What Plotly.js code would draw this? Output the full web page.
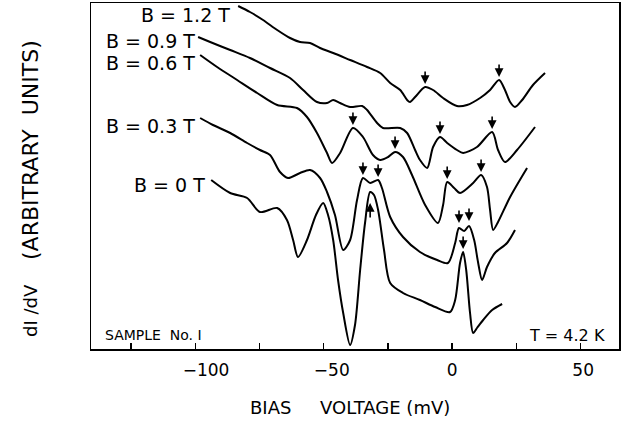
<!DOCTYPE html>
<html>
<head>
<meta charset="utf-8">
<script src="https://cdn.plot.ly/plotly-3.0.1.min.js"></script>
<style>html,body{margin:0;padding:0;background:#fff;}#chart{width:626px;height:425px;}</style>
</head>
<body>
<div id="chart"></div>
<script>
// Bias voltage (mV) and dI/dV (arbitrary units, curves offset vertically)
var V_12 = [-83.3,-78.7,-73.6,-68.1,-63.1,-59.2,-55.3,-51.4,-46.3,-39.7,-33.1,-28.0,-24.1,-20.2,-17.5,-16.4,-14.4,-10.5,-7.4,-3.5,1.9,5.8,10.9,14.8,18.3,20.6,22.6,24.5,27.3,31.5,36.2];
var G_12 = [34.3,33.7,32.9,31.9,31.1,30.7,30.6,30.1,29.6,28.9,28.2,27.6,26.6,25.9,24.9,24.7,25.2,26.2,25.9,25.1,24.3,24.4,25.1,25.9,26.9,25.9,24.7,24.2,24.9,26.4,27.6];

var V_09 = [-98.9,-94.2,-86.4,-78.7,-70.9,-63.1,-58.0,-52.6,-48.7,-46.3,-43.6,-39.7,-35.0,-33.1,-29.2,-26.9,-20.2,-17.5,-14.4,-12.5,-9.7,-7.4,-4.7,-1.9,1.9,4.3,9.7,15.6,17.9,20.6,25.3,32.3];
var G_09 = [31.2,30.7,29.9,29.1,28.1,27.1,25.9,24.7,24.6,24.9,24.6,24.2,24.3,23.9,22.6,22.1,22.1,21.6,19.9,18.9,18.1,20.2,21.2,20.6,19.9,19.6,20.2,21.7,19.9,18.7,19.9,22.2];

var V_06 = [-98.1,-91.5,-83.7,-75.9,-68.1,-60.4,-56.5,-52.6,-48.7,-46.7,-43.6,-38.6,-34.7,-30.8,-28.0,-24.9,-22.2,-19.1,-15.6,-10.5,-5.5,-3.5,-1.9,0.8,3.1,8.2,11.3,13.6,14.8,16.0,17.9,22.6,29.2];
var G_06 = [29.4,28.2,26.9,25.6,24.4,24.1,23.2,21.6,19.6,18.6,19.6,22.1,21.2,19.4,18.9,19.2,19.7,19.2,17.4,14.4,12.6,14.4,16.7,16.1,15.6,16.6,17.4,16.2,13.9,11.9,12.7,15.2,18.1];

var V_03 = [-98.1,-93.1,-86.4,-79.8,-74.8,-70.9,-67.0,-63.9,-59.2,-55.3,-51.4,-48.7,-45.6,-42.4,-39.7,-37.0,-34.7,-31.9,-28.8,-27.3,-24.1,-19.1,-12.5,-5.8,-1.6,1.2,2.7,4.7,6.6,8.6,10.1,11.7,13.6,16.7,21.4,24.5];
var G_03 = [23.1,22.4,21.6,20.6,19.9,19.4,17.7,17.1,17.6,17.9,17.1,15.7,13.4,9.9,10.9,14.9,17.1,16.6,16.9,16.1,13.2,11.2,9.7,8.9,8.6,10.6,12.1,11.8,12.3,10.9,8.7,6.9,8.2,9.6,10.6,11.9];

var V_00 = [-93.8,-86.4,-79.8,-74.8,-68.1,-64.3,-61.9,-60.0,-56.5,-53.0,-50.2,-48.3,-46.3,-44.4,-42.4,-39.7,-37.8,-35.8,-33.9,-31.9,-30.4,-28.8,-26.5,-24.1,-19.1,-12.5,-6.6,-0.8,1.2,3.1,4.3,5.5,7.0,8.2,9.7,12.1,15.6,19.5];
var G_00 = [16.9,15.6,15.1,13.7,14.1,12.9,10.9,9.2,10.9,13.4,14.6,13.4,10.9,6.9,3.6,0.4,2.4,7.9,12.6,15.7,15.4,13.9,9.9,6.6,5.6,4.9,4.2,3.7,4.9,8.6,9.7,7.9,3.6,1.6,2.1,2.9,3.9,4.5];

var curveLabels = ['B\u00a0=\u00a01.2\u00a0T','B\u00a0=\u00a00.9\u00a0T','B\u00a0=\u00a00.6\u00a0T','B\u00a0=\u00a00.3\u00a0T','B\u00a0=\u00a00\u00a0T'];
var labelV = [-85.7,-99.3,-99.3,-99.3,-95.4];
var labelG = [33.4,30.8,28.6,22.3,16.4];

// arrows marking peaks: voltage, level, direction (1 = down arrow above, -1 = up arrow below)
var arrowV = [-10.5,18.3,-4.7,15.6,-38.6,-22.2,-1.9,11.3,-34.7,-28.8,2.7,6.6,4.3,-31.9];
var arrowG = [26.2,26.9,21.2,21.7,22.1,19.7,16.7,17.4,17.1,16.9,12.3,12.5,9.7,14.6];
var arrowDir = [1,1,1,1,1,1,1,1,1,1,1,1,1,-1];

var tickVals = [-125,-100,-75,-50,-25,0,25,50];
var tickText = ['','\u00a0\u00a0\u00a0\u00a0\u2212100','','\u00a0\u00a0\u00a0\u221250','','0','','\u00a050'];

var FONT = 'DejaVu Sans, Arial, sans-serif';
var series = [[V_12,G_12],[V_09,G_09],[V_06,G_06],[V_03,G_03],[V_00,G_00]];
var data = series.map(function(s,i){
  return {x:s[0], y:s[1], type:'scatter', mode:'lines', name:curveLabels[i],
    line:{color:'#000', width:2, shape:'spline', smoothing:0.8}, hoverinfo:'skip'};
});

var ann = [];
curveLabels.forEach(function(t,i){
  ann.push({x:labelV[i], y:labelG[i], xref:'x', yref:'y', text:t, showarrow:false,
    xanchor:'right', yanchor:'middle', font:{family:FONT, size:19, color:'#000'}});
});
arrowV.forEach(function(v,i){
  var d = arrowDir[i];
  ann.push({x:v, y:arrowG[i], xref:'x', yref:'y', text:'', showarrow:true,
    ax:0, ay: d>0 ? -17 : 16, standoff: d>0 ? 3 : 0, arrowhead:2, arrowsize:1.1, arrowwidth:1.6, arrowcolor:'#000'});
});
ann.push({x:-135.9, y:1.4, xref:'x', yref:'y', text:'SAMPLE\u00a0\u00a0No.\u00a0I', showarrow:false,
  xanchor:'left', yanchor:'middle', font:{family:FONT, size:14, color:'#000'}});
ann.push({x:60.4, y:1.4, xref:'x', yref:'y', text:'T\u00a0=\u00a04.2\u00a0K', showarrow:false,
  xanchor:'right', yanchor:'middle', font:{family:FONT, size:16, color:'#000'}});

// axis titles placed by pixel position (converted to paper coordinates)
var L=91, R=7, T=3, B=76, W=626, H=425;
function px2paper(a){ a.x = (a.x - L)/(W-L-R); a.y = (H - B - a.y)/(H-T-B); return a; }
ann.push(px2paper({x:30, y:311, xref:'paper', yref:'paper', text:'dI\u00a0/dV', showarrow:false, textangle:-90,
  xanchor:'center', yanchor:'middle', font:{family:FONT, size:18, color:'#000'}}));
ann.push(px2paper({x:30, y:150, xref:'paper', yref:'paper', text:'(ARBITRARY\u00a0\u00a0UNITS)', showarrow:false, textangle:-90,
  xanchor:'center', yanchor:'middle', font:{family:FONT, size:22, color:'#000'}}));
ann.push(px2paper({x:350, y:408, xref:'paper', yref:'paper', text:'BIAS\u00a0\u00a0\u00a0\u00a0\u00a0VOLTAGE\u00a0(mV)', showarrow:false,
  xanchor:'center', yanchor:'middle', font:{family:FONT, size:18, color:'#000'}}));

var layout = {
  width:W, height:H, margin:{l:L, r:R, t:T, b:B, pad:0},
  paper_bgcolor:'#fff', plot_bgcolor:'#fff', showlegend:false,
  xaxis:{range:[-140.6,65], tickmode:'array', tickvals:tickVals, ticktext:tickText,
    ticks:'inside', ticklen:6, tickwidth:1.5, tickcolor:'#000', ticklabelstandoff:5,
    showline:true, mirror:true, linecolor:'#000', linewidth:1.5,
    showgrid:false, zeroline:false, tickfont:{family:FONT, size:17, color:'#000'}},
  yaxis:{range:[0,34.6], showticklabels:false, ticks:'', showline:true, mirror:true,
    linecolor:'#000', linewidth:1.5, showgrid:false, zeroline:false},
  annotations: ann
};
Plotly.newPlot('chart', data, layout, {staticPlot:true, displayModeBar:false});
</script>
</body>
</html>
